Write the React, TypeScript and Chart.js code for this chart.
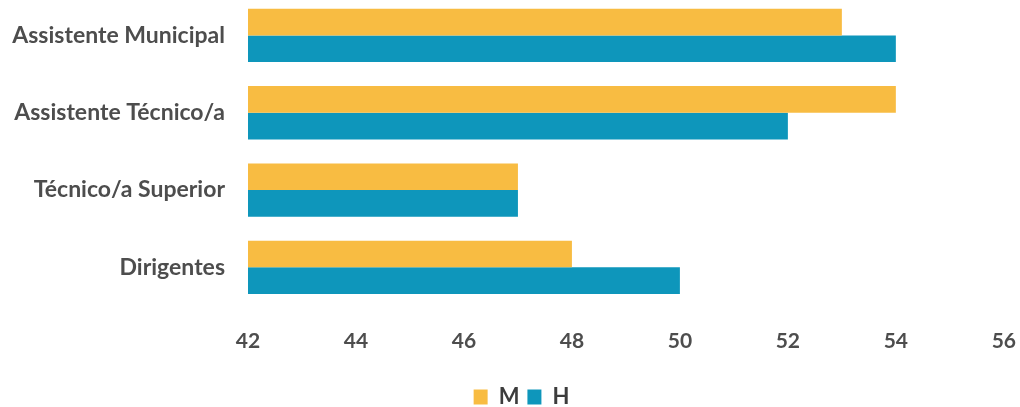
import React, { useEffect, useRef } from "react";
import { Chart, registerables } from "chart.js";

Chart.register(...registerables);

const categories = ["Assistente Municipal", "Assistente Técnico/a", "Técnico/a Superior", "Dirigentes"];
const seriesM = [53, 54, 47, 48];
const seriesH = [54, 52, 47, 50];
const xTicks = [42, 44, 46, 48, 50, 52, 54, 56];

const FONT = "Lato, 'Noto Sans', sans-serif";
const TEXT = "#4d4d4d";

const legendShift = {
  id: "legendShift",
  afterLayout(chart: any) {
    const l = chart.legend;
    if (l) {
      l.left += 6;
      l.right += 6;
    }
  },
};

export default function App() {
  const ref = useRef<HTMLCanvasElement | null>(null);
  useEffect(() => {
    if (!ref.current) return;
    const chart = new Chart(ref.current, {
      type: "bar",
      data: {
        labels: categories,
        datasets: [
          { label: "M", data: seriesM, backgroundColor: "#F8BC42", borderWidth: 0 },
          { label: "H", data: seriesH, backgroundColor: "#0E96BB", borderWidth: 0 },
        ],
      },
      plugins: [legendShift],
      options: {
        indexAxis: "y",
        animation: false,
        responsive: false,
        maintainAspectRatio: false,
        layout: { autoPadding: false, padding: { left: 0, right: 0, top: 0, bottom: 0 } },
        datasets: { bar: { categoryPercentage: 0.69, barPercentage: 1.0 } },
        scales: {
          x: {
            min: 42,
            max: 56,
            afterBuildTicks: (scale: any) => {
              scale.ticks = xTicks.map((v) => ({ value: v }));
            },
            afterFit: (scale: any) => {
              scale.height = 72;
            },
            grid: { display: false },
            border: { display: false },
            ticks: { color: TEXT, font: { family: FONT, size: 21, weight: "bold" }, padding: 15 },
          },
          y: {
            afterFit: (scale: any) => {
              scale.width = 248;
            },
            grid: { display: false },
            border: { display: false },
            ticks: { color: TEXT, font: { family: FONT, size: 23, weight: "bold" }, padding: 15 },
          },
        },
        plugins: {
          legend: {
            position: "bottom",
            labels: {
              color: "#3c3c3c",
              font: { family: FONT, size: 22, weight: "bold" },
              boxWidth: 14,
              boxHeight: 15,
              padding: 8,
            },
          },
          tooltip: { enabled: false },
        },
      },
    });
    return () => chart.destroy();
  }, []);
  return (
    <div style={{ position: "fixed", left: 0, top: 0, width: 1020, height: 407, overflow: "hidden", background: "#fff" }}>
      <canvas ref={ref} width={1031} height={450} style={{ position: "absolute", left: 0, top: -32, width: 1031, height: 450 }} />
    </div>
  );
}
